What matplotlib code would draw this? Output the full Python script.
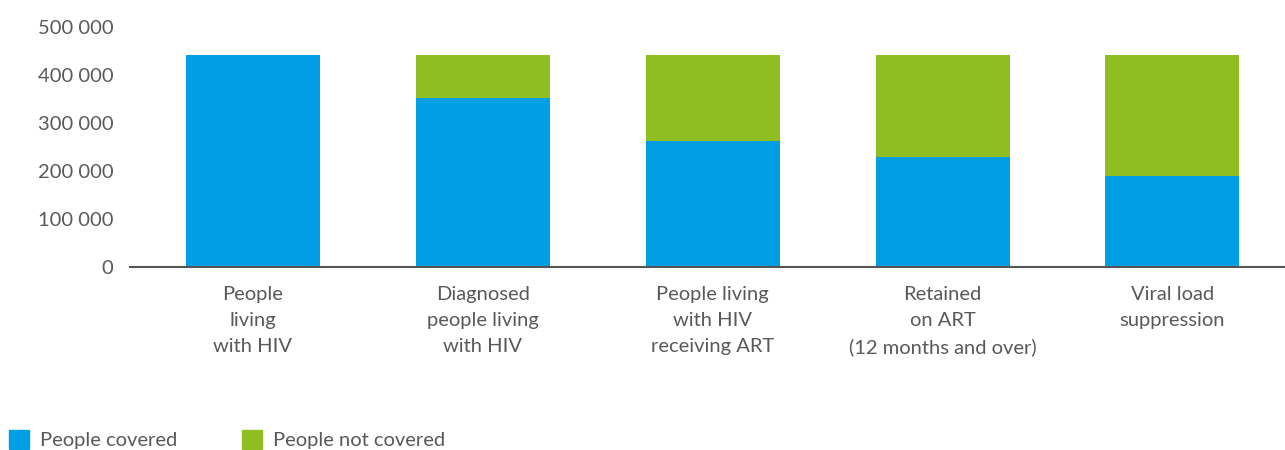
import numpy as np
import matplotlib.pyplot as plt
from matplotlib.patches import Patch
from matplotlib.ticker import FuncFormatter

# data
categories = ["People\nliving\nwith HIV",
              "Diagnosed\npeople living\nwith HIV",
              "People living\nwith HIV\nreceiving ART",
              "Retained\non ART\n(12 months and over)",
              "Viral load\nsuppression"]
covered = [441000, 352000, 262500, 229000, 190000]
not_covered = [0, 89000, 178500, 212000, 251000]

blue = "#009fe3"
green = "#8fbe22"
grey = "#58595b"

plt.rcParams['font.family'] = ['Lato', 'DejaVu Sans']

fig = plt.figure(figsize=(12.85, 4.5), dpi=100)
ax = fig.add_axes([130 / 1285, 1 - 267 / 450, 1 - 130 / 1285, (267 - 27) / 450])

x = np.arange(len(categories))
ax.bar(x, covered, width=0.583, color=blue, zorder=2)
ax.bar(x, not_covered, width=0.583, bottom=covered, color=green, zorder=2)

ax.set_xlim(-0.535, 4.49)
ax.set_ylim(0, 500000)
ax.set_yticks(np.arange(0, 500001, 100000))
ax.yaxis.set_major_formatter(FuncFormatter(lambda v, p: f"{int(v):,}".replace(",", " ")))
ax.set_xticks(x)
ax.set_xticklabels(categories, linespacing=1.62)

ax.tick_params(axis='both', length=0, labelsize=14.5, labelcolor=grey)
ax.tick_params(axis='y', pad=12)
ax.tick_params(axis='x', pad=14)

for s in ['top', 'right', 'left']:
    ax.spines[s].set_visible(False)
ax.spines['bottom'].set_color('#555555')
ax.spines['bottom'].set_linewidth(1.5)
ax.spines['bottom'].set_zorder(3)

handles = [Patch(color=blue, label="People covered"),
           Patch(color=green, label="People not covered")]
leg = fig.legend(handles=handles, loc='lower left', bbox_to_anchor=(-0.004, -0.03),
                 ncol=2, frameon=False, fontsize=14.5, handlelength=1.0,
                 handleheight=1.0, handletextpad=0.55, columnspacing=3.2,
                 borderaxespad=0.3)
for t in leg.get_texts():
    t.set_color(grey)

fig.savefig("out.png", dpi=100)
